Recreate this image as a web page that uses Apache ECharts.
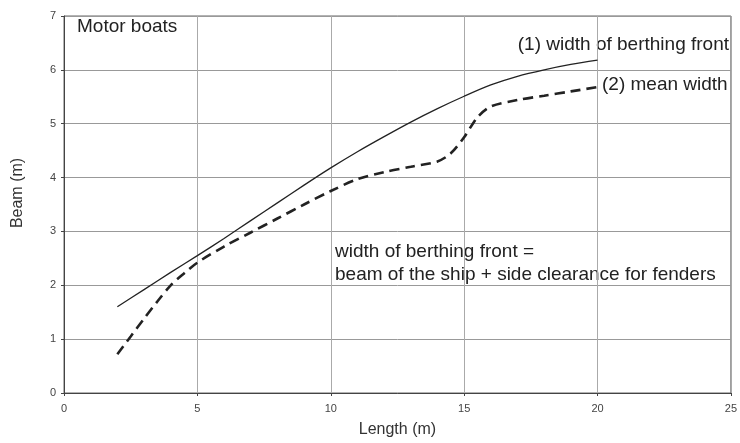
<!DOCTYPE html>
<html>
<head>
<meta charset="utf-8">
<script src="https://cdn.jsdelivr.net/npm/echarts@6/dist/echarts.min.js"></script>
<style>
  html, body { margin: 0; padding: 0; background: #fff; }
  #chart { width: 740px; height: 443px; }
</style>
</head>
<body>
<div id="chart"></div>
<script>
// width of berthing front (solid)
var frontLen = [2, 3, 4, 5, 6, 7, 8, 9, 10, 11, 12, 13, 14, 15, 16, 17, 18, 19, 20]
var frontBeam = [1.6, 1.92, 2.24, 2.55, 2.87, 3.2, 3.53, 3.86, 4.18, 4.48, 4.76, 5.03, 5.28, 5.51, 5.72, 5.88, 6.0, 6.1, 6.18]
// mean width (dashed)
var meanLen = [2, 2.5, 3, 3.5, 4, 4.5, 5, 6, 7, 8, 9, 10, 11, 12, 13, 14, 14.5, 15, 15.5, 16, 17, 18, 19, 20]
var meanBeam = [0.72, 1.05, 1.38, 1.7, 2.0, 2.22, 2.42, 2.72, 2.98, 3.24, 3.5, 3.75, 3.97, 4.1, 4.2, 4.3, 4.45, 4.75, 5.12, 5.32, 5.44, 5.52, 5.6, 5.68]

var pairs = function (xs, ys) {
  var out = []
  for (var i = 0; i < xs.length; i++) out.push([xs[i], ys[i]])
  return out
}

var myChart = echarts.init(document.getElementById('chart'))
var font = 'Liberation Sans, Arial, sans-serif'
var txt = function (s, x, y, align, extra) {
  var o = { type: 'text', x: x, y: y, style: { text: s, font: '19px ' + font, fill: '#222', align: align, verticalAlign: 'middle' } }
  if (extra) for (var k in extra) o[k] = extra[k]
  return o
}
var option = {
  animation: false,
  grid: { left: 64, right: 7, top: 16, bottom: 46, show: true, borderColor: '#666', borderWidth: 1 },
  xAxis: {
    type: 'value', min: 0, max: 25, interval: 5,
    name: 'Length (m)', nameLocation: 'middle', nameGap: 29,
    nameTextStyle: { fontFamily: font, fontSize: 16, color: '#333' },
    axisLine: { show: true, lineStyle: { color: '#444' } },
    axisTick: { show: true, length: 3, lineStyle: { color: '#444' } },
    axisLabel: { fontFamily: font, fontSize: 11, color: '#444', margin: 10 },
    splitLine: { show: true, lineStyle: { color: '#aaa', width: 1 } }
  },
  yAxis: {
    type: 'value', min: 0, max: 7, interval: 1,
    axisLine: { show: true, lineStyle: { color: '#444' } },
    axisTick: { show: true, length: 3, lineStyle: { color: '#444' } },
    axisLabel: { fontFamily: font, fontSize: 11, color: '#444', margin: 8 },
    splitLine: { show: true, lineStyle: { color: '#999', width: 1 } }
  },
  series: [
    {
      name: '(1) width of berthing front',
      type: 'line', smooth: 0.3, symbol: 'none',
      data: pairs(frontLen, frontBeam),
      lineStyle: { color: '#222', width: 1.3 }
    },
    {
      name: '(2) mean width',
      type: 'line', smooth: 0.3, symbol: 'none',
      data: pairs(meanLen, meanBeam),
      lineStyle: { color: '#222', width: 2.6, type: [10, 6] }
    }
  ],
  graphic: [
    txt('Motor boats', 77, 27, 'left'),
    txt('(1) width of berthing front', 729, 45, 'right'),
    txt('(2) mean width', 602, 85, 'left'),
    txt('width of berthing front =', 335, 252, 'left'),
    txt('beam of the ship + side clearance for fenders', 335, 275, 'left'),
    { type: 'text', x: 18, y: 193, rotation: Math.PI / 2,
      style: { text: 'Beam (m)', font: '16px ' + font, fill: '#333', align: 'center', verticalAlign: 'middle' } }
  ]
}
myChart.setOption(option)
</script>
</body>
</html>
